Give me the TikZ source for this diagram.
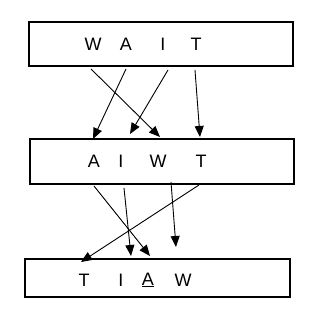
\documentclass[tikz,border=0pt]{standalone}
\usepackage{fontspec}
\setmainfont{Liberation Sans}
\usetikzlibrary{arrows.meta}
\begin{document}
\begin{tikzpicture}[x=1pt,y=-1pt,
  rowbox/.style={draw,line width=1.4pt},
  letter/.style={inner sep=0pt,font=\fontsize{18}{18}\selectfont},
  link/.style={line width=0.9pt,-{Triangle[length=11pt,width=9pt]}}]
\useasboundingbox (0,0) rectangle (325,315);
% boxes
\node[rowbox,minimum width=264pt,minimum height=44pt,inner sep=0pt] (b1) at (161,44) {};
\node[rowbox,minimum width=264pt,minimum height=45pt,inner sep=0pt] (b2) at (162,161.5) {};
\node[rowbox,minimum width=265pt,minimum height=38pt,inner sep=0pt] (b3) at (157.5,278) {};
% letters row 1
\node[letter] (w1) at (93,44) {W};
\node[letter] (a1) at (126,44) {A};
\node[letter] (i1) at (163,44) {I};
\node[letter] (t1) at (196,44) {T};
% letters row 2
\node[letter] (a2) at (94,161) {A};
\node[letter] (i2) at (121,161) {I};
\node[letter] (w2) at (158,161) {W};
\node[letter] (t2) at (201,161) {T};
% letters row 3
\node[letter] (t3) at (84,280) {T};
\node[letter] (i3) at (121,280) {I};
\node[letter] (a3) at (148,280) {\underline{A}};
\node[letter] (w3) at (183,280) {W};
% connector ends
\coordinate (sW1) at (91,69);  \coordinate (eW1) at (160,137);
\coordinate (sA1) at (126,69); \coordinate (eA1) at (93,139);
\coordinate (sI1) at (168,70); \coordinate (eI1) at (130,134);
\coordinate (sT1) at (195,70); \coordinate (eT1) at (200,137);
\coordinate (sA2) at (94,186); \coordinate (eA2) at (150,256);
\coordinate (sI2) at (124,188);\coordinate (eI2) at (131,256);
\coordinate (sW2) at (171,182);\coordinate (eW2) at (176,247);
\coordinate (sT2) at (199,185);\coordinate (eT2) at (81,262);
% connectors
\draw[link] (sW1) -- (eW1);
\draw[link] (sA1) -- (eA1);
\draw[link] (sI1) -- (eI1);
\draw[link] (sT1) -- (eT1);
\draw[link] (sA2) -- (eA2);
\draw[link] (sI2) -- (eI2);
\draw[link] (sW2) -- (eW2);
\draw[link] (sT2) -- (eT2);
\end{tikzpicture}
\end{document}
